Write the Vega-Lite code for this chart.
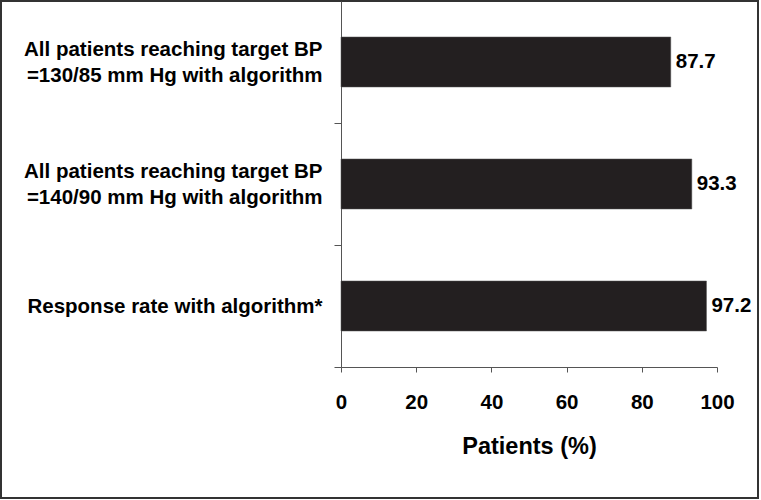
{
  "$schema": "https://vega.github.io/schema/vega-lite/v6.json",
  "width": 757,
  "height": 497,
  "autosize": {"type": "none"},
  "padding": {"left": 1, "top": 1, "right": 3, "bottom": 2},
  "background": "white",
  "config": {
    "view": {"stroke": "#333333", "strokeWidth": 2},
    "font": "Liberation Sans",
    "axis": {"grid": false, "domainColor": "#555555", "tickColor": "#555555", "labelColor": "#000000", "titleColor": "#000000"}
  },
  "data": {
    "values": [
      {"label": "All patients reaching target BP|=130/85 mm Hg with algorithm", "value": 87.7},
      {"label": "All patients reaching target BP|=140/90 mm Hg with algorithm", "value": 93.3},
      {"label": "Response rate with algorithm*", "value": 97.2}
    ]
  },
  "encoding": {
    "y": {
      "field": "label",
      "type": "nominal",
      "sort": null,
      "scale": {"range": [0, 366], "paddingInner": 0.59, "paddingOuter": 0.295},
      "axis": {
        "title": null,
        "orient": "left",
        "offset": -340,
        "tickOffset": 61,
        "labelOffset": {"condition": {"test": "indexof(datum.label, '|') >= 0", "value": -74}, "value": -61},
        "tickSize": 7,
        "labelPadding": 12,
        "labelFontSize": 20.5,
        "labelFontWeight": "bold",
        "labelLineHeight": 26,
        "labelLimit": 400,
        "labelExpr": "split(datum.label, '|')"
      }
    }
  },
  "layer": [
    {
      "mark": {"type": "bar", "color": "#231f20", "stroke": "#555555", "strokeWidth": 0.5},
      "encoding": {
        "x": {
          "field": "value",
          "type": "quantitative",
          "scale": {"domain": [0, 100], "range": [340, 716], "nice": false},
          "axis": {
            "title": "Patients (%)",
            "orient": "bottom",
            "offset": -131,
            "values": [0, 20, 40, 60, 80, 100],
            "tickSize": 5,
            "labelPadding": 20,
            "labelFontSize": 20.5,
            "labelFontWeight": "bold",
            "labelFlush": false,
            "titleFontSize": 23.5,
            "titleFontWeight": "bold",
            "titlePadding": 22
          }
        }
      }
    },
    {
      "mark": {"type": "text", "align": "left", "baseline": "middle", "dx": 5, "fontSize": 20.5, "fontWeight": "bold", "color": "#000000"},
      "encoding": {
        "x": {"field": "value", "type": "quantitative"},
        "text": {"field": "value", "type": "quantitative", "format": ".1f"}
      }
    }
  ]
}
